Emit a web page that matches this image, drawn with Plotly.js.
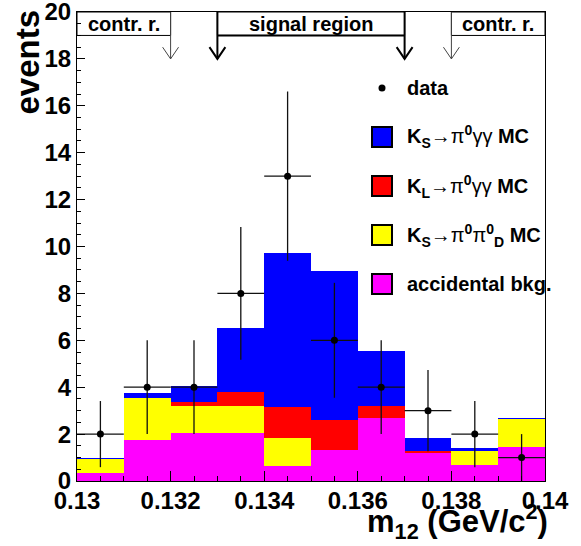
<!DOCTYPE html>
<html>
<head>
<meta charset="utf-8">
<script src="https://cdn.plot.ly/plotly-3.0.1.min.js"></script>
<style>html,body{margin:0;padding:0;background:#fff;}#chart{width:581px;height:546px;}</style>
</head>
<body>
<div id="chart"></div>
<script>
// ---- data ----
const binCenters = [0.1305, 0.1315, 0.1325, 0.1335, 0.1345, 0.1355, 0.1365, 0.1375, 0.1385, 0.1395];
const binWidth = 0.001;
const dataCounts = [2, 4, 4, 8, 13, 6, 4, 3, 2, 1];
const dataErrors = [1.41, 2.0, 2.0, 2.83, 3.61, 2.45, 2.0, 1.73, 1.41, 1.0];
const accidental = [0.33, 1.75, 2.03, 2.03, 0.64, 1.33, 2.67, 1.18, 0.68, 1.46];
const ksPi0Pi0D = [0.61, 1.78, 1.18, 1.18, 1.18, 0.0, 0.0, 0.0, 0.61, 1.18];
const klPi0gg  = [0.0, 0.03, 0.17, 0.60, 1.35, 1.29, 0.53, 0.10, 0.0, 0.0];
const ksPi0gg  = [0.06, 0.18, 0.67, 2.70, 6.54, 6.34, 2.34, 0.54, 0.13, 0.05];

const xTickVals = [0.130, 0.132, 0.134, 0.136, 0.138, 0.140];
const xTickLabels = ['0.13', '0.132', '0.134', '0.136', '0.138', '0.14'];
const yTickVals = [0, 2, 4, 6, 8, 10, 12, 14, 16, 18, 20];
const yTickLabels = ['0', '2', '4', '6', '8', '10', '12', '14', '16', '18', '20'];

const regionLabels = ['contr. r.', 'signal region', 'contr. r.'];
const regionLow = [0.130, 0.133, 0.138];
const regionHigh = [0.132, 0.137, 0.140];
const regionBoxY = [19, 20];
const cutLines = [0.132, 0.133, 0.137, 0.138];
const cutIsSignal = [false, true, true, false];
const cutArrowTip = 18;

const legendLabels = [
  'data',
  'K<sub>S</sub><span style="font-weight:normal">→π</span><sup>0</sup><span style="font-weight:normal">γγ</span> MC',
  'K<sub>L</sub><span style="font-weight:normal">→π</span><sup>0</sup><span style="font-weight:normal">γγ</span> MC',
  'K<sub>S</sub><span style="font-weight:normal">→π</span><sup>0</sup><span style="font-weight:normal">π</span><sup>0</sup><sub>D</sub> MC',
  'accidental bkg.'
];
const legendColors = [null, '#0000ff', '#ff0000', '#ffff00', '#ff00ff'];

// ---- geometry helpers (pixel -> paper) ----
const W = 581, H = 546;
const M = {l: 77, r: 36, t: 12, b: 65};
const PW = W - M.l - M.r, PH = H - M.t - M.b;
const px = x => (x - M.l) / PW;
const py = y => (H - M.b - y) / PH;

const FONT = 'Liberation Sans, Arial, Helvetica, sans-serif';

const traces = [
  {type: 'bar', x: binCenters, y: accidental, width: binWidth, marker: {color: '#ff00ff', line: {width: 0}}, showlegend: false, hoverinfo: 'skip'},
  {type: 'bar', x: binCenters, y: ksPi0Pi0D, width: binWidth, marker: {color: '#ffff00', line: {width: 0}}, showlegend: false, hoverinfo: 'skip'},
  {type: 'bar', x: binCenters, y: klPi0gg, width: binWidth, marker: {color: '#ff0000', line: {width: 0}}, showlegend: false, hoverinfo: 'skip'},
  {type: 'bar', x: binCenters, y: ksPi0gg, width: binWidth, marker: {color: '#0000ff', line: {width: 0}}, showlegend: false, hoverinfo: 'skip'},
  {type: 'scatter', mode: 'markers', x: binCenters, y: dataCounts,
   marker: {color: '#000', size: 7},
   error_y: {type: 'data', array: dataErrors, visible: true, color: '#111', thickness: 1.3, width: 0},
   error_x: {type: 'constant', value: binWidth / 2, visible: true, color: '#111', thickness: 1.3, width: 0},
   showlegend: false, hoverinfo: 'skip'}
];

const shapes = [];
const annotations = [];

// region boxes
for (let i = 0; i < regionLabels.length; i++) {
  shapes.push({type: 'rect', xref: 'x', yref: 'y', x0: regionLow[i], x1: regionHigh[i], y0: regionBoxY[0], y1: regionBoxY[1],
    line: {color: '#000', width: 1}, fillcolor: 'rgba(0,0,0,0)', layer: 'above'});
  annotations.push({xref: 'x', yref: 'y', x: (regionLow[i] + regionHigh[i]) / 2, y: (regionBoxY[0] + regionBoxY[1]) / 2,
    text: regionLabels[i], showarrow: false, xanchor: 'center', yanchor: 'middle',
    font: {family: FONT, size: 20, color: '#000', weight: 'bold'}});
}
// thicker bottom edge of the signal box
shapes.push({type: 'line', xref: 'x', yref: 'y', x0: regionLow[1], x1: regionHigh[1], y0: regionBoxY[0], y1: regionBoxY[0], line: {color: '#000', width: 2}, layer: 'above'});

// cut lines with arrows
const armDx = 0.00017, armDy = 0.5;
for (let i = 0; i < cutLines.length; i++) {
  const c = cutLines[i];
  const col = cutIsSignal[i] ? '#000' : '#444';
  const w = cutIsSignal[i] ? 2 : 1;
  shapes.push({type: 'line', xref: 'x', yref: 'y', x0: c, x1: c, y0: regionBoxY[1], y1: cutArrowTip, line: {color: col, width: w}, layer: 'above'});
  shapes.push({type: 'path', xref: 'x', yref: 'y',
    path: `M${c - armDx},${cutArrowTip + armDy} L${c},${cutArrowTip} L${c + armDx},${cutArrowTip + armDy}`,
    line: {color: col, width: w}, layer: 'above'});
}

// manual legend
const legendY = [88, 137, 186, 235, 284];
const swX = 382, swHalf = 10, textX = 405;
for (let i = 0; i < legendLabels.length; i++) {
  const cy = legendY[i];
  if (legendColors[i] === null) {
    shapes.push({type: 'circle', xref: 'paper', yref: 'paper', x0: px(swX - 3.5), x1: px(swX + 3.5), y0: py(cy + 3.5), y1: py(cy - 3.5),
      fillcolor: '#000', line: {color: '#000', width: 0}, layer: 'above'});
  } else {
    shapes.push({type: 'rect', xref: 'paper', yref: 'paper', x0: px(swX - swHalf), x1: px(swX + swHalf), y0: py(cy + swHalf), y1: py(cy - swHalf),
      fillcolor: legendColors[i], line: {color: '#000', width: 2}, layer: 'above'});
  }
  annotations.push({xref: 'paper', yref: 'paper', x: px(textX), y: py(cy), xanchor: 'left', yanchor: 'middle',
    text: legendLabels[i], showarrow: false, align: 'left',
    font: {family: FONT, size: 20, color: '#000', weight: 'bold'}});
}

// axis titles
annotations.push({xref: 'paper', yref: 'paper', x: px(27), y: py(8), xanchor: 'center', yanchor: 'top',
  text: 'events', textangle: -90, showarrow: false, font: {family: FONT, size: 33, color: '#000', weight: 'bold'}});
annotations.push({xref: 'paper', yref: 'paper', x: px(550), y: py(546), xanchor: 'right', yanchor: 'bottom',
  text: 'm<sub>12</sub> (GeV/c<sup>2</sup>)', showarrow: false, font: {family: FONT, size: 31, color: '#000', weight: 'bold'}});

const layout = {
  width: W, height: H,
  margin: M,
  paper_bgcolor: '#fff', plot_bgcolor: '#fff',
  barmode: 'stack', bargap: 0,
  showlegend: false,
  xaxis: {range: [0.13, 0.14], tickvals: xTickVals, ticktext: xTickLabels, ticks: 'inside', ticklen: 10, tickwidth: 1, tickcolor: '#000',
    minor: {dtick: 0.0005, ticks: 'inside', ticklen: 5, tickcolor: '#000', tickwidth: 1},
    showline: true, linecolor: '#000', linewidth: 1, mirror: true, showgrid: false, zeroline: false,
    ticklabeloverflow: 'allow', ticklabelstandoff: -2,
    tickfont: {family: FONT, size: 24, color: '#000', weight: 'bold'}},
  yaxis: {range: [0, 20], tickvals: yTickVals, ticktext: yTickLabels, ticks: 'inside', ticklen: 8, tickwidth: 1, tickcolor: '#000',
    minor: {dtick: 0.5, ticks: 'inside', ticklen: 4, tickcolor: '#000', tickwidth: 1},
    showline: true, linecolor: '#000', linewidth: 1, mirror: true, showgrid: false, zeroline: false,
    ticklabeloverflow: 'allow',
    tickfont: {family: FONT, size: 24, color: '#000', weight: 'bold'}},
  shapes: shapes,
  annotations: annotations
};

Plotly.newPlot('chart', traces, layout, {staticPlot: true, displayModeBar: false});
</script>
</body>
</html>
